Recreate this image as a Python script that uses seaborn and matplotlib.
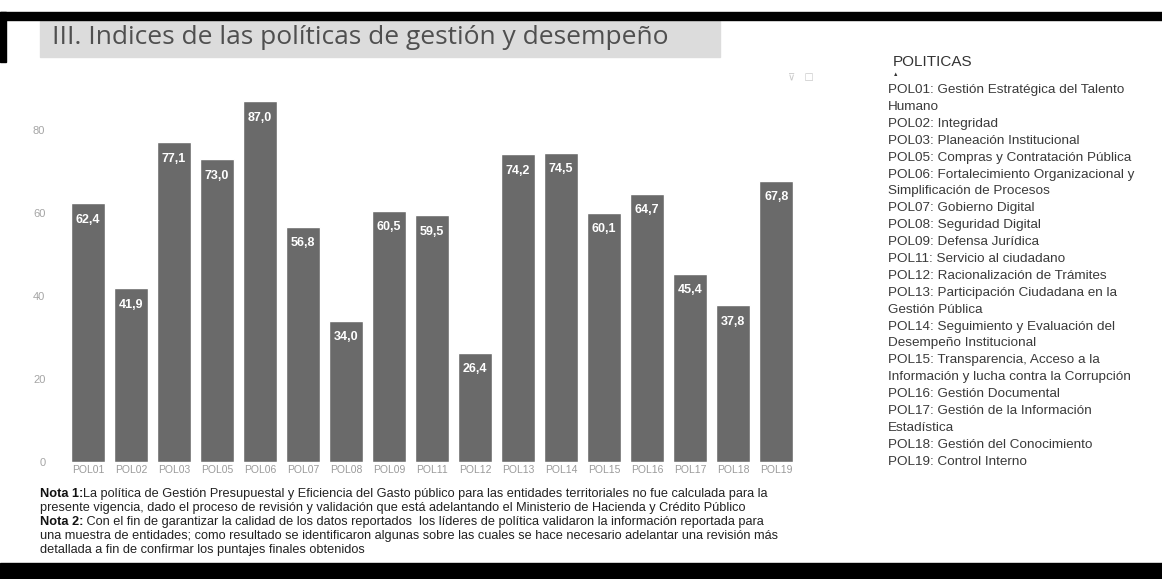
import matplotlib
matplotlib.use("Agg")
import matplotlib.pyplot as plt
import seaborn as sns
import pandas as pd

# Datos del gráfico
politicas = ["POL01", "POL02", "POL03", "POL05", "POL06", "POL07", "POL08", "POL09",
             "POL11", "POL12", "POL13", "POL14", "POL15", "POL16", "POL17", "POL18", "POL19"]
indices = [62.4, 41.9, 77.1, 73.0, 87.0, 56.8, 34.0, 60.5,
           59.5, 26.4, 74.2, 74.5, 60.1, 64.7, 45.4, 37.8, 67.8]
yticks = [0, 20, 40, 60, 80]

# Leyenda de políticas (cada elemento es una lista de renglones)
leyenda = [
    ["POL01: Gestión Estratégica del Talento", "Humano"],
    ["POL02: Integridad"],
    ["POL03: Planeación Institucional"],
    ["POL05: Compras y Contratación Pública"],
    ["POL06: Fortalecimiento Organizacional y", "Simplificación de Procesos"],
    ["POL07: Gobierno Digital"],
    ["POL08: Seguridad Digital"],
    ["POL09: Defensa Jurídica"],
    ["POL11: Servicio al ciudadano"],
    ["POL12: Racionalización de Trámites"],
    ["POL13: Participación Ciudadana en la", "Gestión Pública"],
    ["POL14: Seguimiento y Evaluación del", "Desempeño Institucional"],
    ["POL15: Transparencia, Acceso a la", "Información y lucha contra la Corrupción"],
    ["POL16: Gestión Documental"],
    ["POL17: Gestión de la Información", "Estadística"],
    ["POL18: Gestión del Conocimiento"],
    ["POL19: Control Interno"],
]

notas = [
    ("Nota 1:", "La política de Gestión Presupuestal y Eficiencia del Gasto público para las entidades territoriales no fue calculada para la"),
    ("", "presente vigencia, dado el proceso de revisión y validación que está adelantando el Ministerio de Hacienda y Crédito Público"),
    ("Nota 2:", " Con el fin de garantizar la calidad de los datos reportados  los líderes de política validaron la información reportada para"),
    ("", "una muestra de entidades; como resultado se identificaron algunas sobre las cuales se hace necesario adelantar una revisión más"),
    ("", "detallada a fin de confirmar los puntajes finales obtenidos"),
]

df = pd.DataFrame({"politica": politicas, "indice": indices})

sns.set_theme(style="white")
plt.rcParams["font.family"] = ["Liberation Sans", "DejaVu Sans"]

W, H = 1162, 579
fig = plt.figure(figsize=(W / 100, H / 100), dpi=100, facecolor="white")


def px(x, y):
    # pixel (desde arriba-izquierda) -> coordenadas de figura
    return x / W, 1 - y / H


# Ejes principales
x0, x1, ytop, ybot = 62, 802, 89, 462
ax = fig.add_axes([x0 / W, 1 - ybot / H, (x1 - x0) / W, (ybot - ytop) / H])
sns.barplot(data=df, x="politica", y="indice", color="#6a6a6a", saturation=1,
            width=0.8, ax=ax)
ax.set_xlim(-0.6, len(politicas) - 0.4)
ax.set_ylim(0, 90)
ax.set_yticks(yticks)
ax.set_xlabel("")
ax.set_ylabel("")
ax.tick_params(axis="x", labelsize=7.5, colors="#9a9a9a", length=0, pad=2)
ax.tick_params(axis="y", labelsize=8, colors="#a5a5a5", length=0, pad=12)
for s in ax.spines.values():
    s.set_visible(False)
ax.set_facecolor("white")

etiquetas = [f"{v:.1f}".replace(".", ",") for v in indices]
ax.bar_label(ax.containers[0], labels=etiquetas, padding=-16, color="white",
             fontsize=9, fontweight="bold")

# Iconos pequeños del visor
fig.text(*px(788, 77), "⊽   □", fontsize=7, color="#c8c8c8", ha="left", va="center",
         family=["DejaVu Sans"])

# Título con banda gris
banda = plt.Rectangle(px(40, 57), (720 - 40) / W, (57 - 21) / H, transform=fig.transFigure,
                      color="#dcdcdc", zorder=0)
fig.patches.append(banda)
fig.text(*px(52, 38), "III. Indices de las políticas de gestión y desempeño",
         fontsize=19, color="#4f4f4f", ha="left", va="center",
         family=["Open Sans", "DejaVu Sans"])

# Leyenda de la derecha
fig.text(*px(893, 62), "POLITICAS", fontsize=11, color="#333333", ha="left", va="center")
fig.text(*px(893, 75), "▲", fontsize=4, color="#333333", ha="left", va="center")
y = 90
for item in leyenda:
    for renglon in item:
        fig.text(*px(888, y), renglon, fontsize=9.7, color="#3a3a3a", ha="left", va="center")
        y += 16.9

# Notas al pie
renderer = fig.canvas.get_renderer()
yn = 494
for negrita, resto in notas:
    xn = 40
    if negrita:
        t = fig.text(*px(xn, yn), negrita, fontsize=9.2, fontweight="bold", color="#111111",
                     ha="left", va="center")
        bb = t.get_window_extent(renderer)
        xn = bb.x1
    fig.text(*px(xn, yn), resto, fontsize=9.2, color="#222222", ha="left", va="center")
    yn += 14

# Bordes negros de la fotocopia
borde_sup = plt.Rectangle(px(0, 20), 1, 8 / H, transform=fig.transFigure, color="black", zorder=5)
borde_inf = plt.Rectangle(px(0, 579), 1, 16 / H, transform=fig.transFigure, color="black", zorder=5)
borde_izq = plt.Rectangle(px(0, 62), 6 / W, 50 / H, transform=fig.transFigure, color="black", zorder=5)
for r in (borde_sup, borde_inf, borde_izq):
    fig.patches.append(r)

plt.savefig("out.png", dpi=100, facecolor="white")
